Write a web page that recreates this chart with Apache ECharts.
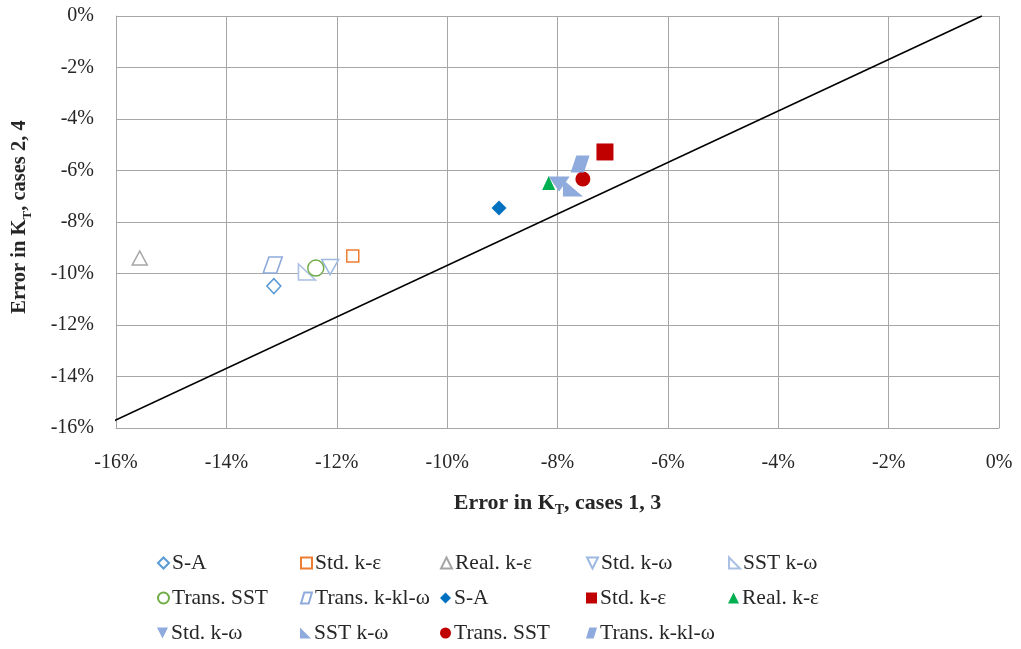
<!DOCTYPE html>
<html>
<head>
<meta charset="utf-8">
<script src="https://cdn.jsdelivr.net/npm/echarts@6/dist/echarts.min.js"></script>
<style>html,body{margin:0;padding:0;background:#fff}#c{width:1021px;height:649px}</style>
</head>
<body>
<div id="c"></div>
<script>
// ---- data (percent) ----
const modelNames = ['S-A', 'Std. k-ε', 'Real. k-ε', 'Std. k-ω', 'SST k-ω', 'Trans. SST', 'Trans. k-kl-ω'];
const openX   = [-13.14, -11.71, -15.57, -12.12, -12.54, -12.38, -13.16];
const openY   = [-10.49,  -9.32,  -9.40,  -9.75,  -9.94,  -9.79,  -9.67];
const filledX = [-9.06, -7.14, -8.16, -7.97, -7.72, -7.54, -7.59];
const filledY = [-7.46, -5.28, -6.49, -6.52, -6.68, -6.33, -5.75];
const refLineX = [-16.16, -0.31];
const refLineY = [-15.85, 0];

// ---- styles ----
const FONT = 'Liberation Serif';
const DOWN = 'path://M0,0 L10,0 L5,10 Z';
const RTRI = 'path://M0,0 L0,10 L10,10 Z';
const PARA = 'path://M3,0 L10,0 L7,10 L0,10 Z';
const openStyle = [
  {symbol:'diamond',  size:[14,15], color:'#5B9BD5'},
  {symbol:'rect',     size:12,      color:'#ED7D31'},
  {symbol:'triangle', size:[15,14], color:'#A5A5A5'},
  {symbol:DOWN,       size:[17,15], color:'#9DB9E0'},
  {symbol:RTRI,       size:[17,16], color:'#A9BFE3'},
  {symbol:'circle',   size:16,      color:'#70AD47'},
  {symbol:PARA,       size:[19,16], color:'#8FAADC'}
];
const filledStyle = [
  {symbol:'diamond',  size:[15,15], color:'#0070C0'},
  {symbol:'rect',     size:17,      color:'#C00000'},
  {symbol:'triangle', size:[13,14], color:'#00B050'},
  {symbol:DOWN,       size:[21,15], color:'#8FAADC'},
  {symbol:RTRI,       size:[20,17], color:'#8FAADC'},
  {symbol:'circle',   size:15,      color:'#C00000'},
  {symbol:PARA,       size:[19,17], color:'#8FAADC'}
];

const series = [];
modelNames.forEach((n, i) => {
  const s = openStyle[i];
  series.push({
    type:'scatter', name: n + '|o', symbol: s.symbol, symbolSize: s.size,
    itemStyle:{color:'#ffffff', borderColor:s.color, borderWidth:1.5, opacity:1},
    data: [[openX[i], openY[i]]], z: 3
  });
});
modelNames.forEach((n, i) => {
  const s = filledStyle[i];
  series.push({
    type:'scatter', name: n + '|f', symbol: s.symbol, symbolSize: s.size,
    itemStyle:{color:s.color, opacity:1},
    data: [[filledX[i], filledY[i]]], z: 4
  });
});
series.push({
  type:'line', name:'ref', data: refLineX.map((x, i) => [x, refLineY[i]]),
  showSymbol:false, symbol:'none', clip:false, silent:true,
  lineStyle:{color:'#000', width:1.6}, z: 5
});

// legends laid out like the reference (5 columns x 3 rows)
const colLeft = [157, 300, 440, 586, 728];
const rowCenter = [563, 598, 633];
const legendOrder = modelNames.map(n => n + '|o').concat(modelNames.map(n => n + '|f'));
const legends = legendOrder.map((nm, k) => ({
  data:[nm], left: colLeft[k % 5], top: rowCenter[Math.floor(k / 5)] - 11,
  padding:0, itemWidth:11, itemHeight:11, itemGap:0, selectedMode:false,
  formatter: v => v.split('|')[0],
  textStyle:{fontFamily:FONT, fontSize:21.5, color:'#262626', lineHeight:22, padding:[0,0,0,-2]}
}));

function titleRich(size) {
  return {
    a:{fontFamily:FONT, fontSize:size, fontWeight:'bold', color:'#262626', lineHeight:28},
    s:{fontFamily:FONT, fontSize:Math.round(size * 0.64), fontWeight:'bold', color:'#262626', lineHeight:13, verticalAlign:'bottom'}
  };
}
const axisCommon = {
  type:'value', min:-16, max:0, interval:2,
  axisLine:{show:true, onZero:false, lineStyle:{color:'#A6A6A6', width:1}},
  axisTick:{show:false},
  splitLine:{show:true, lineStyle:{color:'#A6A6A6', width:1}},
  axisLabel:{fontFamily:FONT, fontSize:20, color:'#262626', formatter: v => v + '%'},
  nameLocation:'middle'
};

const chart = echarts.init(document.getElementById('c'));
chart.setOption({
  animation:false,
  backgroundColor:'#fff',
  grid:{left:116, right:22, top:16, bottom:221, containLabel:false, outerBoundsMode:'none'},
  xAxis: Object.assign({}, axisCommon, {
    name:'{a|Error in K}{s|T}{a|, cases 1, 3}', nameGap:61,
    nameTextStyle:{rich:titleRich(22)},
    axisLabel: Object.assign({}, axisCommon.axisLabel, {margin:25})
  }),
  yAxis: Object.assign({}, axisCommon, {
    name:'{a|Error in K}{s|T}{a|, cases 2, 4}', nameGap:82, nameRotate:90,
    nameTextStyle:{rich:titleRich(20.5), padding:[0,0,0,10]},
    axisLabel: Object.assign({}, axisCommon.axisLabel, {margin:22})
  }),
  legend: legends,
  series: series
});
</script>
</body>
</html>
